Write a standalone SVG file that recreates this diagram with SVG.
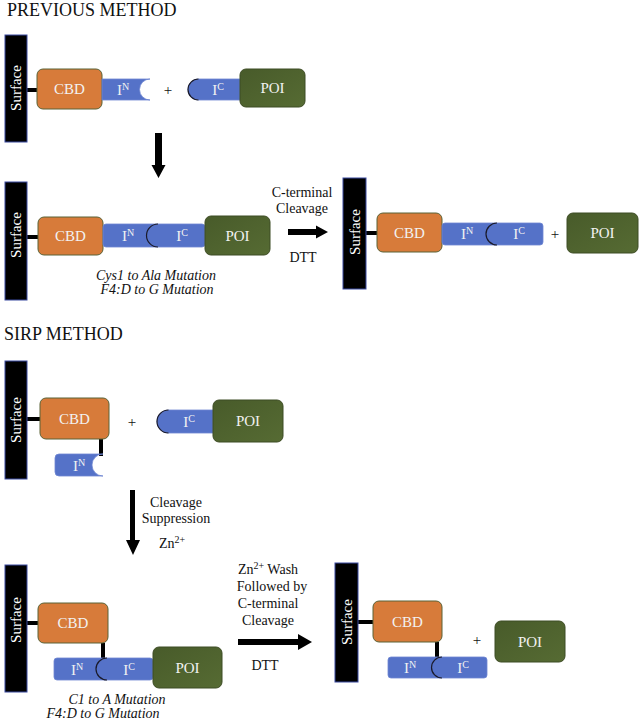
<svg xmlns="http://www.w3.org/2000/svg" width="640" height="721" viewBox="0 0 640 721" font-family="'Liberation Serif', 'Times New Roman', Times, 'DejaVu Serif', serif">
<defs>
<style>
text, tspan{font-family:'Liberation Serif', 'Times New Roman', Times, 'DejaVu Serif', serif;}
.title{font-size:18px;fill:#111;}
.surf{fill:#000;stroke:#3a4aa0;stroke-width:1;}
.surft{font-size:15px;fill:#fff;text-anchor:middle;}
.cbd{fill:#D77B3A;stroke:#5a6236;stroke-width:1;}
.blue{fill:#5572C8;stroke:#6f86d2;stroke-width:0.8;}
.poi{fill:url(#gp);stroke:#3d4c24;stroke-width:1;}
.lbl{font-size:15px;fill:#f2f2f2;text-anchor:middle;}
.sup{font-size:10px;}
.lnk{stroke:#000;stroke-width:4;fill:none;}
.arc{stroke:#1a1a2a;stroke-width:1.2;fill:none;}
.note{font-size:14px;fill:#111;text-anchor:middle;}
.ital{font-size:14px;fill:#111;font-style:italic;text-anchor:middle;}
.plus{font-size:15px;fill:#111;text-anchor:middle;}
</style>
<linearGradient id="gp" x1="0" y1="0" x2="1" y2="1">
<stop offset="0" stop-color="#485B2A"/>
<stop offset="1" stop-color="#566B33"/>
</linearGradient>
</defs>
<rect width="640" height="721" fill="#fff"/>

<text class="title" x="7" y="16">PREVIOUS METHOD</text>
<text class="title" x="4" y="340">SIRP METHOD</text>

<g id="connectors">
<line class="lnk" x1="27" y1="90" x2="38" y2="90"/>
<line class="lnk" x1="27" y1="237" x2="39" y2="237"/>
<line class="lnk" x1="366" y1="233" x2="378" y2="233"/>
<line class="lnk" x1="27" y1="419" x2="41" y2="419"/>
<line class="lnk" x1="101" y1="439" x2="101" y2="456"/>
<line class="lnk" x1="27" y1="623" x2="39" y2="623"/>
<line class="lnk" x1="103" y1="643" x2="103" y2="659"/>
<line class="lnk" x1="358" y1="622" x2="374" y2="622"/>
<line class="lnk" x1="437" y1="642" x2="437" y2="658"/>
<path d="M155,133 H162 V165 H165.5 L158.5,178 L151.5,165 H155 Z" fill="#000"/>
<path d="M288,229 H316 V225.5 L328,232 L316,238.5 V235 H288 Z" fill="#000"/>
<path d="M130,490 H135 V540 H140 L133,555 L126,540 H130 Z" fill="#000"/>
<path d="M238,639 H298 V634 L312,642 L298,650 V645 H238 Z" fill="#000"/>
</g>

<g id="surface1"><rect class="surf" x="5" y="35" width="22" height="107"/><text class="surft" transform="translate(21,88) rotate(-90)">Surface</text></g>
<g id="cbd1"><rect class="cbd" x="37" y="69" width="65" height="40" rx="6"/><text class="lbl" x="69.5" y="94">CBD</text></g>
<g id="in1"><path class="blue" d="M102,79 H150 A10.5 10.5 0 0 0 150,100 H102 Z"/><text class="lbl" x="123" y="95">I<tspan class="sup" dy="-5">N</tspan></text></g>
<text class="plus" x="168" y="95">+</text>
<g id="ic1"><path class="blue" d="M198.5,79 H240 V100 H198.5 A10.5 10.5 0 0 1 198.5,79 Z"/><path class="arc" d="M198.5,100 A10.5 10.5 0 0 1 198.5,79"/><text class="lbl" x="218" y="95">I<tspan class="sup" dy="-5">C</tspan></text></g>
<g id="poi1"><rect class="poi" x="240" y="69" width="65" height="38" rx="6"/><text class="lbl" x="272.5" y="93">POI</text></g>

<g id="surface2"><rect class="surf" x="5" y="182" width="22" height="118"/><text class="surft" transform="translate(21,235) rotate(-90)">Surface</text></g>
<g id="cbd2"><rect class="cbd" x="38" y="217" width="65" height="38" rx="6"/><text class="lbl" x="70.5" y="241">CBD</text></g>
<g id="inic2"><rect class="blue" x="103" y="224" width="102" height="23" rx="3"/><path class="arc" d="M158,224 A11.5 11.5 0 0 0 158,247"/><text class="lbl" x="128" y="241">I<tspan class="sup" dy="-5">N</tspan></text><text class="lbl" x="182" y="241">I<tspan class="sup" dy="-5">C</tspan></text></g>
<g id="poi2"><rect class="poi" x="205" y="216" width="65" height="39" rx="6"/><text class="lbl" x="237.5" y="241">POI</text></g>
<text class="ital" x="156" y="280">Cys1 to Ala Mutation</text>
<text class="ital" x="157" y="294">F4:D to G Mutation</text>
<text class="note" x="302" y="197">C-terminal</text>
<text class="note" x="302" y="213">Cleavage</text>
<text class="note" x="303" y="262">DTT</text>

<g id="surface3"><rect class="surf" x="343" y="178" width="23" height="111"/><text class="surft" transform="translate(360,232) rotate(-90)">Surface</text></g>
<g id="cbd3"><rect class="cbd" x="377" y="213" width="65" height="39" rx="6"/><text class="lbl" x="409.5" y="238">CBD</text></g>
<g id="inic3"><rect class="blue" x="442" y="223" width="101" height="22" rx="3"/><path class="arc" d="M497,223 A11 11 0 0 0 497,245"/><text class="lbl" x="467" y="239">I<tspan class="sup" dy="-5">N</tspan></text><text class="lbl" x="519" y="239">I<tspan class="sup" dy="-5">C</tspan></text></g>
<text class="plus" x="555" y="239">+</text>
<g id="poi3"><rect class="poi" x="567" y="213" width="71" height="40" rx="6"/><text class="lbl" x="602.5" y="238">POI</text></g>

<g id="surface4"><rect class="surf" x="5" y="361" width="22" height="118"/><text class="surft" transform="translate(21,420) rotate(-90)">Surface</text></g>
<g id="cbd4"><rect class="cbd" x="40" y="398" width="69" height="41" rx="6"/><text class="lbl" x="74.5" y="424">CBD</text></g>
<g id="in4"><path class="blue" d="M59,454 H103 A11 11 0 0 0 103,476 H59 Q55,476 55,472 V458 Q55,454 59,454 Z"/><text class="lbl" x="79" y="471">I<tspan class="sup" dy="-5">N</tspan></text></g>
<text class="plus" x="132" y="427">+</text>
<g id="ic4"><path class="blue" d="M168.5,410 H213 V433 H168.5 A11.5 11.5 0 0 1 168.5,410 Z"/><path class="arc" d="M168.5,433 A11.5 11.5 0 0 1 168.5,410"/><text class="lbl" x="189" y="427">I<tspan class="sup" dy="-5">C</tspan></text></g>
<g id="poi4"><rect class="poi" x="213" y="400" width="70" height="42" rx="6"/><text class="lbl" x="248" y="426">POI</text></g>
<text class="note" x="176" y="507">Cleavage</text>
<text class="note" x="176" y="523">Suppression</text>
<text class="note" x="172" y="548">Zn<tspan class="sup" dy="-5">2+</tspan></text>

<g id="surface5"><rect class="surf" x="5" y="565" width="22" height="127"/><text class="surft" transform="translate(21,620) rotate(-90)">Surface</text></g>
<g id="cbd5"><rect class="cbd" x="38" y="603" width="70" height="40" rx="6"/><text class="lbl" x="73" y="628">CBD</text></g>
<g id="inic5"><rect class="blue" x="54" y="658" width="99" height="22" rx="3"/><path class="arc" d="M107,658 A11 11 0 0 0 107,680"/><text class="lbl" x="77" y="675">I<tspan class="sup" dy="-5">N</tspan></text><text class="lbl" x="129" y="675">I<tspan class="sup" dy="-5">C</tspan></text></g>
<g id="poi5"><rect class="poi" x="153" y="647" width="69" height="41" rx="6"/><text class="lbl" x="187.5" y="673">POI</text></g>
<text class="ital" x="117" y="704">C1 to A Mutation</text>
<text class="ital" x="103" y="718">F4:D to G Mutation</text>
<text class="note" x="268" y="574">Zn<tspan class="sup" dy="-5">2+</tspan><tspan dy="5"> Wash</tspan></text>
<text class="note" x="272" y="591">Followed by</text>
<text class="note" x="268" y="608">C-terminal</text>
<text class="note" x="268" y="625">Cleavage</text>
<text class="note" x="265" y="670">DTT</text>

<g id="surface6"><rect class="surf" x="335" y="563" width="23" height="119"/><text class="surft" transform="translate(352,622) rotate(-90)">Surface</text></g>
<g id="cbd6"><rect class="cbd" x="373" y="601" width="69" height="41" rx="6"/><text class="lbl" x="407.5" y="627">CBD</text></g>
<g id="inic6"><rect class="blue" x="388" y="657" width="99" height="21" rx="3"/><path class="arc" d="M442,657 A10.5 10.5 0 0 0 442,678"/><text class="lbl" x="410" y="673">I<tspan class="sup" dy="-5">N</tspan></text><text class="lbl" x="463" y="673">I<tspan class="sup" dy="-5">C</tspan></text></g>
<text class="plus" x="477" y="645">+</text>
<g id="poi6"><rect class="poi" x="495" y="621" width="70" height="41" rx="6"/><text class="lbl" x="530" y="647">POI</text></g>
</svg>
